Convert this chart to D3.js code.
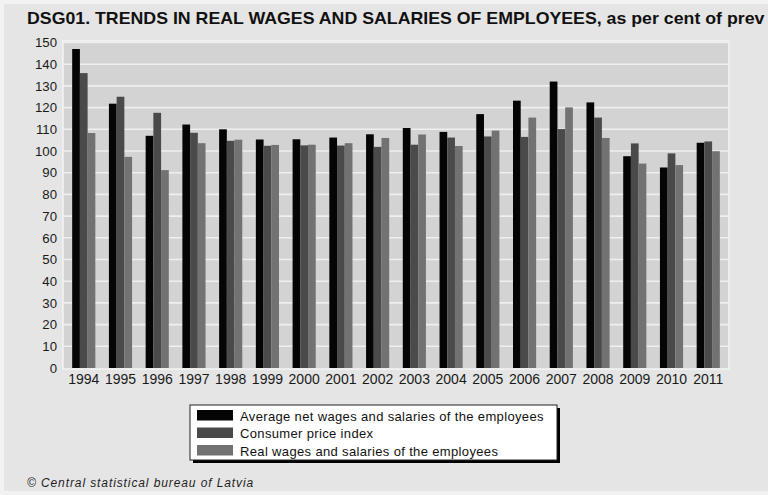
<!DOCTYPE html>
<html>
<head>
<meta charset="utf-8">
<script src="https://cdn.jsdelivr.net/npm/d3@7"></script>
<style>
  html, body { margin: 0; padding: 0; background: #f2f2f2; }
  svg { display: block; }
</style>
</head>
<body>
<svg id="chart" width="768" height="495"></svg>
<script>
// Annual indices, per cent of previous year
const years = ["1994","1995","1996","1997","1998","1999","2000","2001","2002","2003",
               "2004","2005","2006","2007","2008","2009","2010","2011"];
const netWages = [147.0,121.8,107.0,112.2,110.0,105.3,105.4,106.2,107.7,110.6,
                  108.8,117.0,123.2,132.0,122.4,97.6,92.4,103.8];
const cpi      = [135.9,125.0,117.6,108.4,104.7,102.4,102.6,102.5,101.9,102.9,
                  106.2,106.7,106.5,110.1,115.4,103.5,98.9,104.4];
const realWages= [108.3,97.3,91.2,103.6,105.2,102.8,102.9,103.6,106.0,107.6,
                  102.3,109.4,115.4,120.1,106.0,94.2,93.5,99.9];
const yTicks = d3.range(0, 151, 10);

const seriesNames = ["Average net wages and salaries of the employees",
                     "Consumer price index",
                     "Real wages and salaries of the employees"];
const seriesValues = [netWages, cpi, realWages];
const seriesColors = ["#050505", "#4a4a4a", "#727272"];

const svg = d3.select("#chart");
const W = 768, H = 495;
const FONT = "Liberation Sans, Arial, sans-serif";

// page panel
svg.append("rect").attr("x", 4).attr("y", 4).attr("width", W - 4).attr("height", H - 8)
  .attr("fill", "#e5e5e5");

const plot = { left: 63, right: 729, top: 41, bottom: 369 };

const x = d3.scaleBand().domain(years).range([plot.left, plot.right])
  .paddingInner(0.37).paddingOuter(0.25);
const xs = d3.scaleBand().domain(d3.range(3)).range([0, x.bandwidth()]);
const y = d3.scaleLinear().domain([0, 150]).range([368, 42.5]);

// plot area
svg.append("rect")
  .attr("x", plot.left).attr("y", plot.top)
  .attr("width", plot.right - plot.left).attr("height", plot.bottom - plot.top)
  .attr("fill", "#d3d3d3").attr("stroke", "#f4f4f4").attr("stroke-width", 1.5);

// gridlines
svg.append("g").selectAll("line").data(yTicks.filter(d => d > 0)).join("line")
  .attr("x1", plot.left).attr("x2", plot.right)
  .attr("y1", d => y(d)).attr("y2", d => y(d))
  .attr("stroke", "#efefef").attr("stroke-width", 1.6);

// bars
const groups = svg.append("g").selectAll("g").data(years).join("g")
  .attr("transform", d => `translate(${x(d)},0)`);
groups.selectAll("rect")
  .data((yr, i) => seriesValues.map((s, k) => ({ k, v: s[i] })))
  .join("rect")
  .attr("x", d => xs(d.k))
  .attr("width", xs.bandwidth())
  .attr("y", d => y(d.v))
  .attr("height", d => y(0) - y(d.v))
  .attr("fill", d => seriesColors[d.k]);

// y axis labels
const yAxis = d3.axisLeft(y).tickValues(yTicks).tickSize(0).tickPadding(6);
const ya = svg.append("g").attr("transform", `translate(${plot.left},0)`).call(yAxis);
ya.select(".domain").remove();
ya.selectAll("text").attr("font-family", FONT)
  .attr("font-size", 13.2).attr("fill", "#1a1a1a");

// x axis labels
const xAxis = d3.axisBottom(x).tickSize(0).tickPadding(5);
const xa = svg.append("g").attr("transform", `translate(0,${plot.bottom})`).call(xAxis);
xa.select(".domain").remove();
xa.selectAll("text").attr("font-family", FONT)
  .attr("font-size", 14).attr("fill", "#1a1a1a");

// title, horizontally condensed bold face, running to the right edge
const titleText = "DSG01. TRENDS IN REAL WAGES AND SALARIES OF EMPLOYEES, as per cent of prev";
const title = svg.append("text")
  .attr("font-family", FONT)
  .attr("font-weight", "bold").attr("font-size", 16.5).attr("fill", "#111")
  .text(titleText);
const measured = title.node().getComputedTextLength();
const sx = 738 / measured;
title.attr("transform", `translate(27,24) scale(${sx},1)`);

// legend
const lg = svg.append("g").attr("transform", "translate(190,405)");
const lw = 367, lh = 55;
lg.append("rect").attr("x", 3).attr("y", 3).attr("width", lw).attr("height", lh).attr("fill", "#000");
lg.append("rect").attr("x", 0).attr("y", 0).attr("width", lw).attr("height", lh)
  .attr("fill", "#fff").attr("stroke", "#222").attr("stroke-width", 1);
const items = lg.selectAll("g.item").data(seriesNames).join("g").attr("class", "item")
  .attr("transform", (d, i) => `translate(7,${5 + i * 17.5})`);
items.append("rect").attr("width", 36).attr("height", 10.5)
  .attr("fill", (d, i) => seriesColors[i]);
items.append("text").attr("x", 43).attr("y", 10.5)
  .attr("font-family", FONT).attr("font-size", 13).attr("letter-spacing", 0.35)
  .attr("fill", "#111").text(d => d);

// source note
svg.append("text").attr("x", 27).attr("y", 487)
  .attr("font-family", FONT).attr("font-style", "italic")
  .attr("font-size", 12).attr("letter-spacing", 0.9).attr("fill", "#1e1e1e")
  .text("© Central statistical bureau of Latvia");
</script>
</body>
</html>
